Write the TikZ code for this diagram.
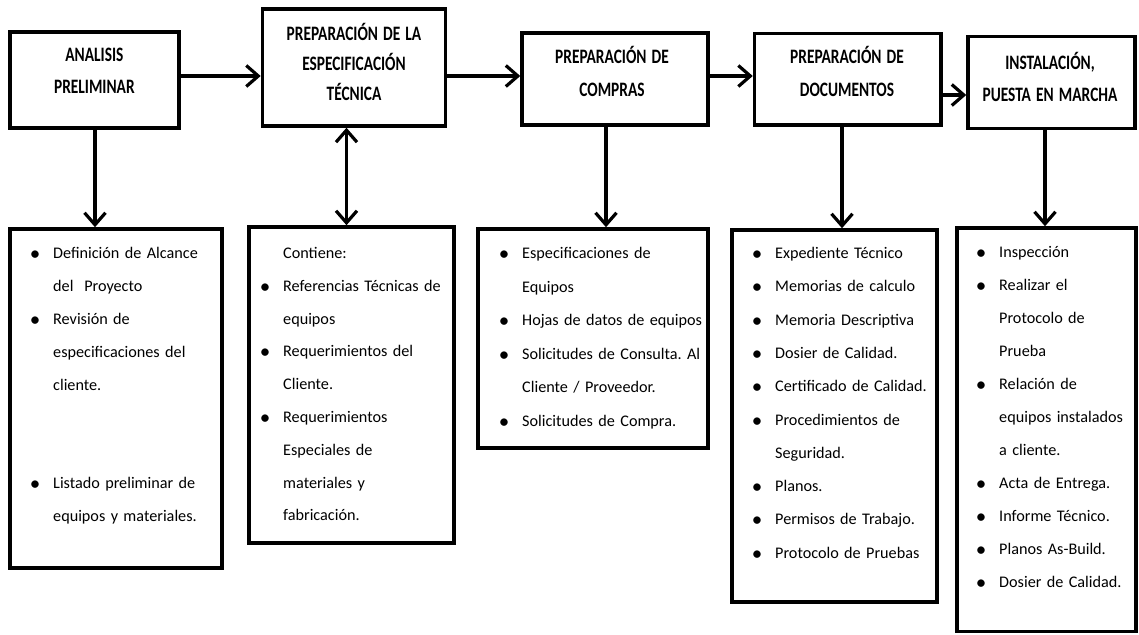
\documentclass[tikz,border=0pt]{standalone}
\usepackage{fontspec}
\usepackage{graphicx}
\setmainfont{Carlito}
\usetikzlibrary{arrows.meta}
\frenchspacing
\newcommand{\bl}{\leavevmode\llap{\makebox[0pt]{\raisebox{-2pt}{\fontsize{21}{21}\selectfont\textbullet}}\hspace{18pt}}}
\newcommand{\tl}[1]{\scalebox{0.75}[1]{#1}}
\begin{document}
\begin{tikzpicture}[x=1pt,y=-1pt,
  box/.style={draw=black, line width=3.6pt, inner sep=0pt, fill=white},
  ttl/.style={inner sep=0pt, text width=190pt, align=center, anchor=base,
    font=\bfseries\fontsize{20.5}{#1}\selectfont},
  lst/.style={inner sep=0pt, text width=200pt, align=left, anchor=base west,
    font=\frenchspacing\fontsize{16.2}{#1}\selectfont},
  arr/.style={line width=3.2pt, -{Straight Barb[length=12pt,width=21pt]}},
  darr/.style={line width=3.2pt, {Straight Barb[length=12pt,width=21pt]}-{Straight Barb[length=12pt,width=21pt]}}
]
\useasboundingbox (0,0) rectangle (1139,634);
% top boxes
\node[box, minimum width=169.2pt, minimum height=96pt] (b1) at (94.4,80) {};
\node[box, minimum width=183pt, minimum height=116.7pt] (b2) at (354,67.6) {};
\node[box, minimum width=185.7pt, minimum height=92.3pt] (b3) at (614.9,78.9) {};
\node[box, minimum width=186.5pt, minimum height=91.7pt] (b4) at (847.8,79.2) {};
\node[box, minimum width=167pt, minimum height=91.6pt] (b5) at (1051.5,82.5) {};
\node[ttl=32] (t1) at (94.4,61.5) {\tl{ANALISIS}\\\tl{PRELIMINAR}};
\node[ttl=30] (t2) at (354,40.5) {\tl{PREPARACIÓN DE LA}\\\tl{ESPECIFICACIÓN}\\\tl{TÉCNICA}};
\node[ttl=33] (t3) at (612,63.5) {\tl{PREPARACIÓN DE}\\\tl{COMPRAS}};
\node[ttl=33] (t4) at (847,63.5) {\tl{PREPARACIÓN DE}\\\tl{DOCUMENTOS}};
\node[ttl=32] (t5) at (1050,69.5) {\tl{INSTALACIÓN,}\\\tl{PUESTA EN MARCHA}};
% bottom boxes
\node[box, minimum width=212pt, minimum height=339pt] (c1) at (116,398.5) {};
\node[box, minimum width=205pt, minimum height=316pt] (c2) at (351.5,385) {};
\node[box, minimum width=230pt, minimum height=219pt] (c3) at (593,338.5) {};
\node[box, minimum width=205pt, minimum height=372pt] (c4) at (834.5,416) {};
\node[box, minimum width=179pt, minimum height=403.5pt] (c5) at (1046.5,429.75) {};
% lists
\node[lst=33] (l1) at (53,258.5) {\bl Definición de Alcance\\del~ Proyecto\\\bl Revisión de\\especificaciones del\\cliente.\\[65pt]\bl Listado preliminar de\\equipos y materiales.};
\node[lst=32.8] (l2) at (283,258.5) {Contiene:\\\bl Referencias Técnicas de\\equipos\\\bl Requerimientos del\\Cliente.\\\bl Requerimientos\\Especiales de\\materiales y\\fabricación.};
\node[lst=33.6] (l3) at (522,258.5) {\bl Especificaciones de\\Equipos\\\bl Hojas de datos de equipos\\\bl Solicitudes de Consulta. Al\\Cliente / Proveedor.\\\bl Solicitudes de Compra.};
\node[lst=33.3] (l4) at (775,258.5) {\bl Expediente Técnico\\\bl Memorias de calculo\\\bl Memoria Descriptiva\\\bl Dosier de Calidad.\\\bl Certificado de Calidad.\\\bl Procedimientos de\\Seguridad.\\\bl Planos.\\\bl Permisos de Trabajo.\\\bl Protocolo de Pruebas};
\node[lst=33] (l5) at (999,257.5) {\bl Inspección\\\bl Realizar el\\Protocolo de\\Prueba\\\bl Relación de\\equipos instalados\\a cliente.\\\bl Acta de Entrega.\\\bl Informe Técnico.\\\bl Planos As-Build.\\\bl Dosier de Calidad.};
% horizontal arrows
\draw[arr] (b1.east |- 0,76) -- (b2.west |- 0,76);
\draw[arr] (b2.east |- 0,76) -- (b3.west |- 0,76);
\draw[arr] (b3.east |- 0,76) -- (b4.west |- 0,76);
\draw[arr] (b4.east |- 0,95) -- (b5.west |- 0,95);
% vertical arrows
\draw[arr] (b1.south -| 95,0) -- (c1.north -| 95,0);
\draw[darr] (b2.south -| 346.5,0) -- (c2.north -| 346.5,0);
\draw[arr] (b3.south -| 606,0) -- (c3.north -| 606,0);
\draw[arr] (b4.south -| 842,0) -- (c4.north -| 842,0);
\draw[arr] (b5.south -| 1045,0) -- (c5.north -| 1045,0);
\end{tikzpicture}
\end{document}
